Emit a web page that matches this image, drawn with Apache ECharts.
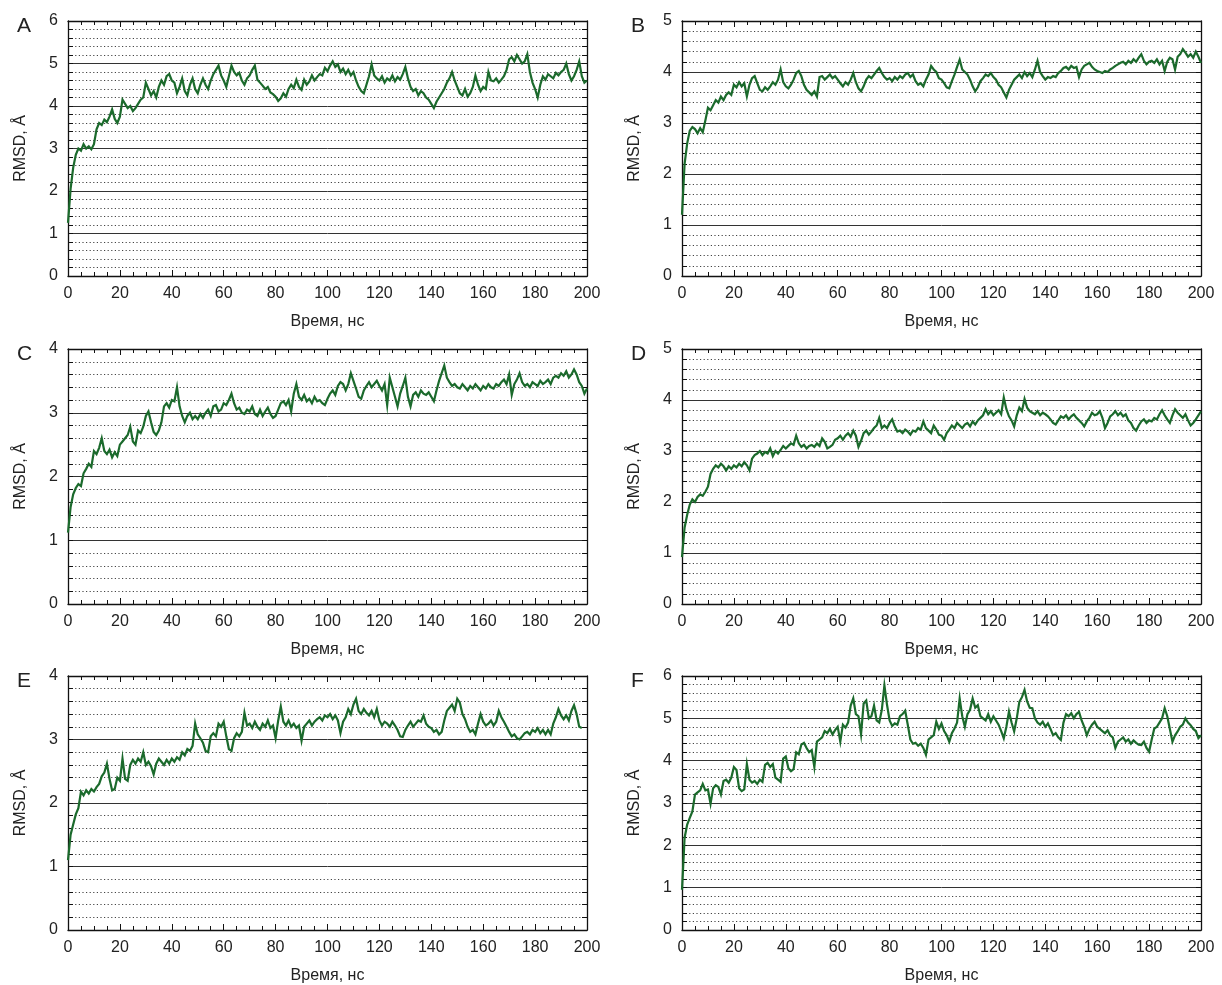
<!DOCTYPE html>
<html>
<head>
<meta charset="utf-8">
<script src="https://cdn.jsdelivr.net/npm/echarts@6/dist/echarts.min.js"></script>
<style>
  html, body { margin: 0; padding: 0; background: #fff; }
  #chart { width: 1222px; height: 985px; }
</style>
</head>
<body>
<div id="chart"></div>
<script>
// RMSD (A) vs time (ns), one value per 1 ns
var STEP = 1;

var rmsdA = [
  1.25, 2.05, 2.55, 2.85, 3.0, 2.95, 3.1, 3.0, 3.05, 2.98,
  3.1, 3.45, 3.6, 3.55, 3.68, 3.62, 3.75, 3.92, 3.7, 3.6,
  3.75, 4.15, 4.05, 3.95, 4.0, 3.88, 3.95, 4.05, 4.15, 4.2,
  4.55, 4.4, 4.25, 4.35, 4.2, 4.45, 4.6, 4.5, 4.7, 4.75,
  4.6, 4.55, 4.3, 4.45, 4.65, 4.35, 4.25, 4.5, 4.65, 4.4,
  4.3, 4.5, 4.65, 4.5, 4.4, 4.6, 4.75, 4.85, 4.95, 4.72,
  4.6, 4.45, 4.7, 4.95, 4.8, 4.72, 4.78, 4.6, 4.5, 4.65,
  4.72, 4.85, 4.95, 4.62, 4.55, 4.48, 4.4, 4.45, 4.32, 4.28,
  4.22, 4.12, 4.18, 4.3, 4.22, 4.4, 4.5, 4.42, 4.62, 4.45,
  4.38, 4.62, 4.5, 4.58, 4.72, 4.6, 4.68, 4.75, 4.72, 4.9,
  4.82, 4.95, 5.05, 4.92, 4.98, 4.8, 4.88, 4.75, 4.85, 4.72,
  4.8, 4.6, 4.45, 4.35, 4.3, 4.5, 4.7, 4.98, 4.72, 4.65,
  4.6, 4.7, 4.55, 4.65, 4.6, 4.72, 4.58, 4.68, 4.62, 4.75,
  4.92, 4.65, 4.45, 4.35, 4.4, 4.25, 4.35, 4.3, 4.2, 4.15,
  4.05, 3.95, 4.1, 4.2, 4.3, 4.4, 4.55, 4.65, 4.8, 4.6,
  4.45, 4.3, 4.25, 4.4, 4.22, 4.3, 4.45, 4.72, 4.5, 4.35,
  4.45, 4.4, 4.8, 4.6, 4.58, 4.65, 4.55, 4.62, 4.7, 4.85,
  5.1, 5.15, 5.05, 5.2, 5.1, 5.0, 5.05, 5.22, 4.8, 4.55,
  4.4, 4.2, 4.5, 4.7, 4.62, 4.75, 4.7, 4.65, 4.78, 4.72,
  4.8, 4.85, 5.0, 4.75, 4.6, 4.7, 4.85, 5.05, 4.7, 4.55,
  4.6
];

var rmsdB = [
  1.2, 2.2, 2.6, 2.85, 2.92, 2.88, 2.8, 2.9, 2.82, 3.05,
  3.3, 3.25, 3.35, 3.45, 3.4, 3.52, 3.45, 3.55, 3.6, 3.55,
  3.75, 3.7, 3.8, 3.72, 3.78, 3.52, 3.75, 3.88, 3.92, 3.78,
  3.65, 3.62, 3.7, 3.65, 3.72, 3.8, 3.75, 3.85, 4.05, 3.8,
  3.72, 3.68, 3.75, 3.85, 3.98, 4.02, 3.92, 3.75, 3.65, 3.6,
  3.55, 3.62, 3.52, 3.9, 3.92, 3.85, 3.9, 3.95, 3.88, 3.92,
  3.85, 3.78, 3.72, 3.8, 3.75, 3.85, 3.98, 3.8, 3.68, 3.62,
  3.72, 3.85, 3.92, 3.88, 3.95, 4.02, 4.08, 3.98, 3.9, 3.85,
  3.88, 3.82, 3.9, 3.85, 3.92, 3.88, 3.95, 3.98, 3.9, 3.95,
  3.82, 3.75, 3.78, 3.72, 3.85, 3.95, 4.12, 4.05, 4.0, 3.88,
  3.85, 3.78, 3.7, 3.68, 3.82, 3.95, 4.1, 4.24, 4.05, 4.0,
  3.95, 3.85, 3.72, 3.62, 3.7, 3.82, 3.88, 3.95, 3.92, 3.98,
  3.9, 3.85, 3.75, 3.7, 3.6, 3.5, 3.65, 3.75, 3.85, 3.9,
  3.95, 3.88, 4.0, 3.92, 3.98, 3.9, 4.05, 4.22, 4.0, 3.92,
  3.85, 3.9, 3.88, 3.92, 3.9, 3.98, 4.02, 4.08, 4.1, 4.05,
  4.12, 4.08, 4.1, 3.9, 4.05, 4.12, 4.15, 4.18, 4.1, 4.05,
  4.02, 4.0, 3.98, 4.02, 4.0, 4.05, 4.08, 4.12, 4.15, 4.18,
  4.2, 4.15, 4.22, 4.18, 4.25, 4.2, 4.28, 4.35, 4.22, 4.15,
  4.2, 4.22, 4.18, 4.25, 4.15, 4.22, 4.02, 4.2, 4.28, 4.25,
  4.05, 4.3, 4.35, 4.45, 4.38, 4.3, 4.35, 4.28, 4.4, 4.3,
  4.18
];

var rmsdC = [
  1.12, 1.52, 1.72, 1.82, 1.88, 1.85, 2.05, 2.12, 2.2, 2.15,
  2.4, 2.35, 2.45, 2.6, 2.4, 2.35, 2.42, 2.3, 2.38, 2.32,
  2.5, 2.55, 2.6, 2.65, 2.78, 2.55, 2.5, 2.72, 2.68, 2.78,
  2.95, 3.02, 2.85, 2.7, 2.65, 2.72, 2.85, 3.1, 3.15, 3.08,
  3.2, 3.18, 3.4, 3.1, 2.95, 2.85, 2.95, 3.0, 2.9, 2.95,
  2.9, 2.98, 2.92, 3.0, 3.05, 2.95, 3.1, 3.12, 3.02, 3.05,
  3.15, 3.12, 3.2, 3.3, 3.15, 3.05, 3.08, 3.0, 2.98, 3.05,
  3.02, 3.1, 2.98, 2.95, 3.05, 2.95, 3.02, 3.08, 2.98, 2.92,
  2.95, 3.05, 3.15, 3.18, 3.12, 3.2, 3.02, 3.3, 3.45, 3.25,
  3.2, 3.28, 3.18, 3.22, 3.15, 3.25, 3.18, 3.2, 3.15, 3.12,
  3.22, 3.3, 3.35, 3.28, 3.42, 3.48, 3.45, 3.35, 3.45, 3.62,
  3.5, 3.38, 3.25, 3.22, 3.35, 3.42, 3.48, 3.4, 3.45, 3.5,
  3.42, 3.35, 3.45, 3.12, 3.55, 3.4, 3.25, 3.1, 3.3, 3.42,
  3.55, 3.25, 3.1, 3.28, 3.32, 3.25, 3.35, 3.3, 3.28, 3.32,
  3.25, 3.18, 3.35, 3.5, 3.62, 3.74, 3.55, 3.48, 3.42, 3.45,
  3.4, 3.38, 3.45, 3.4, 3.35, 3.42, 3.38, 3.45, 3.4, 3.35,
  3.42, 3.38, 3.45, 3.4, 3.38, 3.45, 3.42, 3.48, 3.52, 3.45,
  3.6, 3.28, 3.45, 3.52, 3.62, 3.48, 3.42, 3.45, 3.4, 3.48,
  3.45, 3.42, 3.5, 3.45, 3.48, 3.52, 3.45, 3.55, 3.58, 3.55,
  3.62, 3.58, 3.65, 3.55, 3.6, 3.68, 3.6, 3.48, 3.42, 3.3,
  3.38
];

var rmsdD = [
  0.92, 1.5, 1.75, 1.95, 2.05, 2.0, 2.1, 2.15, 2.12, 2.2,
  2.3, 2.55, 2.65, 2.72, 2.68, 2.75, 2.7, 2.62, 2.7, 2.65,
  2.72, 2.68, 2.75, 2.7, 2.78, 2.72, 2.62, 2.85, 2.92, 2.95,
  3.0, 2.92, 2.98, 2.95, 3.05, 2.9, 3.0, 2.95, 3.02, 3.1,
  3.05, 3.1, 3.15, 3.12, 3.3, 3.15, 3.08, 3.12, 3.05, 3.1,
  3.12, 3.08, 3.15, 3.1, 3.25, 3.18, 3.05, 3.08, 3.12, 3.22,
  3.25, 3.3, 3.22, 3.3, 3.35, 3.28, 3.4, 3.3, 3.08, 3.2,
  3.35, 3.4, 3.32, 3.38, 3.45, 3.5, 3.65, 3.45, 3.5, 3.45,
  3.55, 3.62, 3.48, 3.38, 3.4, 3.35, 3.42, 3.38, 3.32, 3.4,
  3.38, 3.45, 3.42, 3.58, 3.45, 3.4, 3.35, 3.5, 3.42, 3.32,
  3.3, 3.22, 3.35, 3.42, 3.5, 3.45, 3.55, 3.5, 3.45, 3.52,
  3.55, 3.48, 3.58, 3.52, 3.6, 3.65, 3.7, 3.82, 3.72, 3.78,
  3.7, 3.75, 3.8, 3.72, 4.05, 3.82, 3.68, 3.6, 3.48, 3.7,
  3.85, 3.78, 4.02, 3.85, 3.78, 3.75, 3.72, 3.78, 3.7, 3.75,
  3.72, 3.68, 3.62, 3.55, 3.52, 3.6, 3.68, 3.65, 3.7, 3.62,
  3.68, 3.72, 3.65, 3.6, 3.55, 3.48, 3.58, 3.65, 3.75, 3.7,
  3.72, 3.78, 3.65, 3.45, 3.55, 3.68, 3.72, 3.78, 3.7, 3.75,
  3.68, 3.72, 3.6, 3.55, 3.45, 3.4, 3.5, 3.58, 3.62, 3.55,
  3.6, 3.58, 3.65, 3.62, 3.72, 3.8, 3.7, 3.62, 3.55, 3.7,
  3.82, 3.75, 3.7, 3.65, 3.72, 3.6, 3.5, 3.55, 3.62, 3.7,
  3.78
];

var rmsdE = [
  1.1, 1.5, 1.66, 1.82, 1.92, 2.18, 2.12, 2.2, 2.15, 2.22,
  2.18, 2.25, 2.3, 2.42, 2.48, 2.62, 2.38, 2.2, 2.22, 2.4,
  2.35, 2.7, 2.38, 2.35, 2.6, 2.68, 2.62, 2.7, 2.65, 2.8,
  2.6, 2.65, 2.58, 2.45, 2.62, 2.7, 2.65, 2.6, 2.68, 2.62,
  2.7, 2.65, 2.72, 2.68, 2.8, 2.75, 2.85, 2.82, 2.9, 3.25,
  3.08, 3.02, 2.95, 2.82, 2.8, 3.05, 3.1, 3.05, 3.25, 3.2,
  3.28, 3.05, 2.85, 2.82, 3.02, 3.1, 3.05, 3.12, 3.42, 3.22,
  3.25, 3.18, 3.28, 3.2, 3.15, 3.25, 3.2, 3.3, 3.18, 3.22,
  3.02, 3.3, 3.52, 3.28, 3.22, 3.3, 3.2, 3.25, 3.18, 3.22,
  2.98, 3.2, 3.25, 3.3, 3.22, 3.28, 3.32, 3.35, 3.3, 3.38,
  3.35, 3.4, 3.32, 3.38, 3.3, 3.1, 3.28, 3.35, 3.48, 3.4,
  3.55, 3.64, 3.45, 3.4, 3.48, 3.42, 3.38, 3.45, 3.35, 3.48,
  3.3, 3.22, 3.28, 3.25, 3.2, 3.28, 3.22, 3.15, 3.05, 3.04,
  3.15, 3.22, 3.28, 3.2, 3.25, 3.3, 3.28, 3.38, 3.25, 3.2,
  3.18, 3.12, 3.15, 3.08, 3.12, 3.3, 3.45, 3.5, 3.55, 3.45,
  3.64, 3.58, 3.4, 3.32, 3.2, 3.12, 3.15, 3.08, 3.25, 3.4,
  3.28, 3.22, 3.25, 3.3, 3.22, 3.28, 3.45, 3.35, 3.28, 3.2,
  3.12, 3.05, 3.08, 3.02, 3.0, 3.05, 3.1, 3.12, 3.08, 3.15,
  3.12, 3.18, 3.1, 3.15, 3.08, 3.15, 3.08, 3.25, 3.35, 3.48,
  3.38, 3.32, 3.38, 3.3, 3.45, 3.54, 3.4, 3.2, 3.18
];

var rmsdF = [
  0.95, 2.18, 2.49, 2.65, 2.8, 3.2, 3.25, 3.3, 3.45, 3.3,
  3.32, 2.98, 3.35, 3.42, 3.38, 3.2, 3.52, 3.55, 3.48, 3.6,
  3.85, 3.78, 3.35, 3.28, 3.32, 3.92, 3.55, 3.48, 3.52, 3.45,
  3.55, 3.5, 3.9, 3.95, 3.85, 3.92, 3.6, 3.55, 3.5, 4.05,
  4.1, 3.82, 3.75, 3.8, 4.2, 4.15, 4.38, 4.42, 4.3, 4.2,
  4.25, 3.85, 4.45, 4.5, 4.55, 4.7, 4.65, 4.75, 4.62, 4.72,
  4.8, 4.45, 4.85, 4.78, 4.9, 5.3, 5.47, 5.1, 5.05, 4.62,
  5.35, 5.42, 5.0, 5.05, 5.3, 4.95, 4.9, 5.2, 5.78, 5.32,
  4.95, 4.82, 4.88, 4.85, 5.05, 5.1, 5.18, 4.85, 4.5, 4.4,
  4.42, 4.35, 4.4, 4.3, 4.14, 4.5, 4.55, 4.6, 4.92, 4.75,
  4.88, 4.7, 4.6, 4.45, 4.65, 4.76, 4.9, 5.47, 5.05, 4.8,
  5.1, 5.2, 5.47, 5.25, 5.31, 5.05, 5.0, 4.95, 5.1, 4.92,
  5.05, 4.95, 4.85, 4.7, 4.53, 4.8, 5.16, 4.9, 4.69, 5.0,
  5.39, 5.5, 5.67, 5.4, 5.25, 5.24, 5.0, 4.9, 4.85, 4.92,
  4.8, 4.88, 4.75, 4.6, 4.65, 4.55, 4.49, 4.9, 5.1, 5.05,
  5.12, 5.0, 5.1, 5.15, 4.95, 4.8, 4.6, 4.75, 4.85, 4.92,
  4.8, 4.75, 4.7, 4.65, 4.72, 4.6, 4.55, 4.3, 4.45, 4.5,
  4.55, 4.45, 4.5, 4.4, 4.48, 4.42, 4.38, 4.37, 4.45, 4.3,
  4.21, 4.5, 4.76, 4.8, 4.9, 5.0, 5.24, 5.05, 4.75, 4.45,
  4.6, 4.69, 4.8, 4.85, 5.0, 4.9, 4.84, 4.75, 4.7, 4.53,
  4.6
];

var panelLetters = ['A', 'B', 'C', 'D', 'E', 'F'];
var panelSeries = [rmsdA, rmsdB, rmsdC, rmsdD, rmsdE, rmsdF];
var yMaxes = [6, 5, 4, 5, 4, 6];
var xMax = 200;
var xLabel = 'Время, нс';
var yLabel = 'RMSD, Å';

(function () {
    var FONT = 'Liberation Sans, Arial, Helvetica, sans-serif';
    var LINE_COLOR = '#1b6a2c';
    var colLeft = [68, 682];
    var rowTop = [21, 349, 676];
    var gridW = 519, gridH = 255;

    var chart = echarts.init(document.getElementById('chart'), null, {renderer: 'canvas'});

    var grids = [], xAxes = [], yAxes = [], series = [], titles = [];

    function axisBase(extra) {
        var o = {
            type: 'value',
            axisLine: {show: true, onZero: false, lineStyle: {color: '#111', width: 1.3}},
            axisTick: {show: true, inside: true, length: 6, lineStyle: {color: '#111', width: 1}},
            minorTick: {show: true, length: 4, lineStyle: {color: '#111', width: 1}},
            axisLabel: {show: true, fontFamily: FONT, fontSize: 16, color: '#222', margin: 10},
            splitLine: {show: false}
        };
        for (var k in extra) { o[k] = extra[k]; }
        return o;
    }

    for (var i = 0; i < 6; i++) {
        var col = i % 2, row = Math.floor(i / 2);
        var gLeft = colLeft[col], gTop = rowTop[row];
        grids.push({left: gLeft, top: gTop, width: gridW, height: gridH});

        titles.push({
            text: panelLetters[i],
            left: gLeft - 56,
            top: gTop - 10,
            textStyle: {fontFamily: FONT, fontSize: 21, fontWeight: 'normal', color: '#222'}
        });

        // bottom x axis
        xAxes.push(axisBase({
            gridIndex: i, position: 'bottom', min: 0, max: xMax, interval: 20,
            minorTick: {show: true, splitNumber: 4, length: 4, lineStyle: {color: '#111', width: 1}},
            name: xLabel, nameLocation: 'middle', nameGap: 38,
            nameTextStyle: {fontFamily: FONT, fontSize: 16, color: '#222'}
        }));
        // top x axis, only for the mirrored ticks
        xAxes.push(axisBase({
            gridIndex: i, position: 'top', min: 0, max: xMax, interval: 20,
            minorTick: {show: true, splitNumber: 4, length: 4, lineStyle: {color: '#111', width: 1}},
            axisLabel: {show: false}
        }));
        // left y axis carries the grid lines
        yAxes.push(axisBase({
            gridIndex: i, position: 'left', min: 0, max: yMaxes[i], interval: 1,
            axisTick: {show: true, inside: true, length: 5, lineStyle: {color: '#111', width: 1}},
            minorTick: {show: true, splitNumber: 5, length: 5, lineStyle: {color: '#111', width: 1}},
            splitLine: {show: true, lineStyle: {color: '#333', width: 1}},
            minorSplitLine: {show: true, lineStyle: {color: '#444', width: 1, type: [1.2, 2.4]}},
            axisLabel: {show: true, fontFamily: FONT, fontSize: 16, color: '#222', margin: 10},
            name: yLabel, nameLocation: 'middle', nameGap: 39,
            nameTextStyle: {fontFamily: FONT, fontSize: 16, color: '#222'}
        }));
        // right y axis, mirrored ticks
        yAxes.push(axisBase({
            gridIndex: i, position: 'right', min: 0, max: yMaxes[i], interval: 1,
            axisTick: {show: true, inside: true, length: 5, lineStyle: {color: '#111', width: 1}},
            minorTick: {show: true, splitNumber: 5, length: 5, lineStyle: {color: '#111', width: 1}},
            axisLabel: {show: false}
        }));

        var pts = panelSeries[i].map(function (v, j) { return [j * STEP, v]; });
        series.push({
            type: 'line',
            xAxisIndex: 2 * i,
            yAxisIndex: 2 * i,
            data: pts,
            showSymbol: false,
            symbol: 'none',
            lineStyle: {color: LINE_COLOR, width: 2.2, join: 'miter'},
            z: 3
        });
    }

    chart.setOption({
        backgroundColor: '#fff',
        animation: false,
        title: titles,
        grid: grids,
        xAxis: xAxes,
        yAxis: yAxes,
        series: series
    });
})();
</script>
</body>
</html>
